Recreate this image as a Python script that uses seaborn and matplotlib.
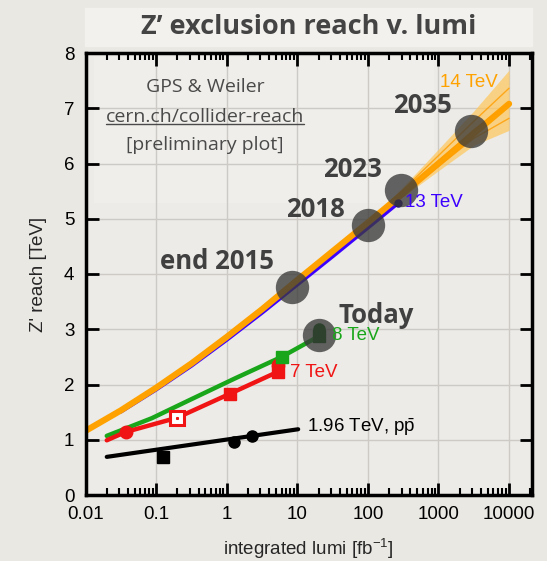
import numpy as np
import pandas as pd
import matplotlib
matplotlib.use("Agg")
import matplotlib.pyplot as plt
import matplotlib.ticker as mticker
from matplotlib.patches import Rectangle
import seaborn as sns

# 14 TeV projection (central curve + uncertainty band)
lumi_14 = [0.01, 0.0316, 0.1, 0.316, 1, 3.16, 10, 31.6, 100, 316, 1000, 3162, 10000]
reach_14 = [1.16, 1.53, 1.94, 2.38, 2.86, 3.36, 3.89, 4.41, 4.93, 5.46, 6.00, 6.54, 7.08]
band_lumi = [100, 316, 1000, 3162, 10000]
band_lo = [4.91, 5.40, 5.87, 6.33, 6.60]
band_hi = [4.95, 5.58, 6.26, 6.95, 7.69]

# 13 TeV projection
lumi_13 = [0.0316, 0.1, 0.316, 1, 3.16, 10, 31.6, 100, 270]
reach_13 = [1.51, 1.91, 2.34, 2.81, 3.30, 3.81, 4.32, 4.84, 5.29]

# measured / extrapolated lines
lumi_8 = [0.02, 0.087, 0.3, 1.31, 6, 20]
reach_8 = [1.07, 1.39, 1.72, 2.11, 2.50, 2.87]
lumi_7 = [0.02, 0.037, 0.2, 1.1, 5.3]
reach_7 = [0.99, 1.14, 1.40, 1.83, 2.23]
lumi_tev = [0.02, 10.3]
reach_tev = [0.69, 1.19]

# points on the lines
pts_7_sq = ([1.1, 5.3], [1.83, 2.23])
pts_7_circ = ([0.037, 5.3], [1.14, 2.35])
pts_7_open = ([0.2], [1.40])
pts_8_sq = ([6], [2.50])
pts_8_end = ([20], [2.87])
pts_8_end_circ = ([20], [3.00])
pts_tev_sq = ([0.126], [0.68])
pts_tev_circ = ([1.27, 2.3], [0.96, 1.07])

# milestones
mile_lumi = [8.3, 101, 292, 2900, 20]
mile_reach = [3.77, 4.88, 5.52, 6.58, 2.89]
mile_names = ["end 2015", "2018", "2023", "2035", "Today"]
mile_label_pos = [(0.72, 4.22), (17.8, 5.17), (59.6, 5.90), (603, 7.05), (132, 3.24)]

sns.set_theme(style="ticks")
plt.rcParams['font.family'] = ['Liberation Sans', 'DejaVu Sans']
plt.rcParams['mathtext.fontset'] = 'custom'
plt.rcParams['mathtext.rm'] = 'Liberation Sans'
plt.rcParams['mathtext.it'] = 'Liberation Sans:italic'

bg = '#eae8e3'
fig = plt.figure(figsize=(5.47, 5.61), dpi=100, facecolor=bg)
ax = fig.add_axes([85.5 / 547, 66 / 561, 446.5 / 547, 442 / 561])
ax.set_facecolor('#ecebe7')

# lighter band behind title
fig.patches.append(Rectangle((85 / 547, 1 - 46 / 561), 447 / 547, 38 / 561,
                             transform=fig.transFigure, color='#f2f1ed', zorder=0))
fig.text(309 / 547, 1 - 27 / 561, "Z’ exclusion reach v. lumi", ha='center', va='center',
         fontsize=19.5, fontweight='bold', color='#444444', family=['Open Sans', 'DejaVu Sans'])

# lighter box behind credit text
ax.add_patch(Rectangle((0.02, 0.66), 0.76, 0.33, transform=ax.transAxes,
                       color='#efeeea', zorder=0, lw=0))

ax.fill_between(band_lumi, band_lo, band_hi, color='#ffc75a', alpha=0.7, lw=0, zorder=3)
d13 = pd.DataFrame({'lumi': lumi_13, 'reach': reach_13})
sns.lineplot(data=d13, x='lumi', y='reach', color='#3c00ff', lw=3, ax=ax, zorder=3)
d14 = pd.DataFrame({'lumi': lumi_14, 'reach': reach_14})
sns.lineplot(data=d14, x='lumi', y='reach', color='#ffa200', lw=4.5, ax=ax, zorder=4)
for lo_w in [0.2, 0.45, 0.7]:
    inner = [l + (h - l) * lo_w for l, h in zip(band_lo, band_hi)]
    ax.plot(band_lumi, inner, color='#ff9d00', lw=1, alpha=0.8, zorder=4)
ax.plot([270], [5.29], 'o', color='#1a0080', ms=5, zorder=5)

d8 = pd.DataFrame({'lumi': lumi_8, 'reach': reach_8})
sns.lineplot(data=d8, x='lumi', y='reach', color='#1aa61a', lw=3.2, ax=ax, zorder=5)
d7 = pd.DataFrame({'lumi': lumi_7, 'reach': reach_7})
sns.lineplot(data=d7, x='lumi', y='reach', color='#f01414', lw=3.2, ax=ax, zorder=6)
dtev = pd.DataFrame({'lumi': lumi_tev, 'reach': reach_tev})
sns.lineplot(data=dtev, x='lumi', y='reach', color='black', lw=3, ax=ax, zorder=5)

ax.plot(*pts_7_sq, 's', color='#f01414', ms=8, zorder=7)
ax.plot(*pts_7_circ, 'o', color='#f01414', ms=9, zorder=7)
ax.plot(*pts_7_open, 's', mfc='white', mec='#f01414', mew=2.2, ms=10, zorder=8)
ax.plot(*pts_7_open, 's', color='#f01414', ms=1.2, zorder=9)
ax.plot(*pts_8_sq, 's', color='#1aa61a', ms=8, zorder=7)
ax.plot(*pts_8_end, 's', color='#005a00', ms=9, zorder=7)
ax.plot(*pts_8_end_circ, 'o', color='#005a00', ms=8, zorder=7)
ax.plot(*pts_tev_sq, 's', color='black', ms=8, zorder=7)
ax.plot(*pts_tev_circ, 'o', color='black', ms=8, zorder=7)

ax.plot(mile_lumi, mile_reach, 'o', color='#3a3a3a', alpha=0.78, ms=24, mew=0, zorder=10)
for name, (lx, ly) in zip(mile_names, mile_label_pos):
    ax.text(lx, ly, name, ha='center', va='center', fontsize=18.5, fontweight='bold',
            color='#404040', family=['Open Sans', 'DejaVu Sans'], zorder=11)

ax.text(1047, 7.47, "14 TeV", color='#ffa200', fontsize=13.5, va='center', zorder=11)
ax.text(335, 5.29, "13 TeV", color='#3c00ff', fontsize=13.5, va='center', zorder=11)
ax.text(30.7, 2.89, "8 TeV", color='#1aa61a', fontsize=13.5, va='center', zorder=11)
ax.text(7.9, 2.21, "7 TeV", color='#f01414', fontsize=13.5, va='center', zorder=11)
ax.text(13.7, 1.235, r"1.96 TeV, p$\bar{\mathrm{p}}$", color='black', fontsize=13.5,
        va='center', zorder=11)

credit_kw = dict(transform=ax.transAxes, ha='center', va='center', fontsize=14,
                 color='#4a4a4a', family=['Open Sans', 'DejaVu Sans'], zorder=11)
ax.text(0.268, 0.924, "GPS & Weiler", **credit_kw)
link = ax.text(0.268, 0.856, "cern.ch/collider-reach", **credit_kw)
ax.text(0.268, 0.792, "[preliminary plot]", **credit_kw)

ax.set_xscale('log')
ax.set_xlim(0.01, 10 ** 4.325)
ax.set_ylim(0, 8)
ax.xaxis.set_major_locator(mticker.FixedLocator([0.01, 0.1, 1, 10, 100, 1000, 10000]))
ax.xaxis.set_major_formatter(mticker.FixedFormatter(['0.01', '0.1', '1', '10', '100', '1000', '10000']))
ax.xaxis.set_minor_locator(mticker.LogLocator(base=10, subs=np.arange(2, 10), numticks=20))
ax.xaxis.set_minor_formatter(mticker.NullFormatter())
ax.set_yticks(range(0, 9))
ax.grid(True, which='major', color='#cdcac5', lw=1)
ax.tick_params(which='both', direction='in', top=True, right=True, colors='black',
               labelsize=13.5, pad=8)
ax.tick_params(which='major', length=9, width=2)
ax.tick_params(which='minor', length=5, width=1.5)
for s in ax.spines.values():
    s.set_linewidth(2.5)
    s.set_color('black')
    s.set_zorder(12)
ax.set_xlabel(r"integrated lumi [fb$^{-1}$]", fontsize=13.5, labelpad=10)
ax.set_ylabel("Z' reach [TeV]", fontsize=13.5, labelpad=12)

# underline the link
fig.canvas.draw()
bb = link.get_window_extent().transformed(ax.transAxes.inverted())
ax.plot([bb.x0, bb.x1], [bb.y0 + 0.003, bb.y0 + 0.003], transform=ax.transAxes,
        color='#4a4a4a', lw=1, zorder=11)

plt.savefig('out.png', dpi=100, facecolor=bg)
